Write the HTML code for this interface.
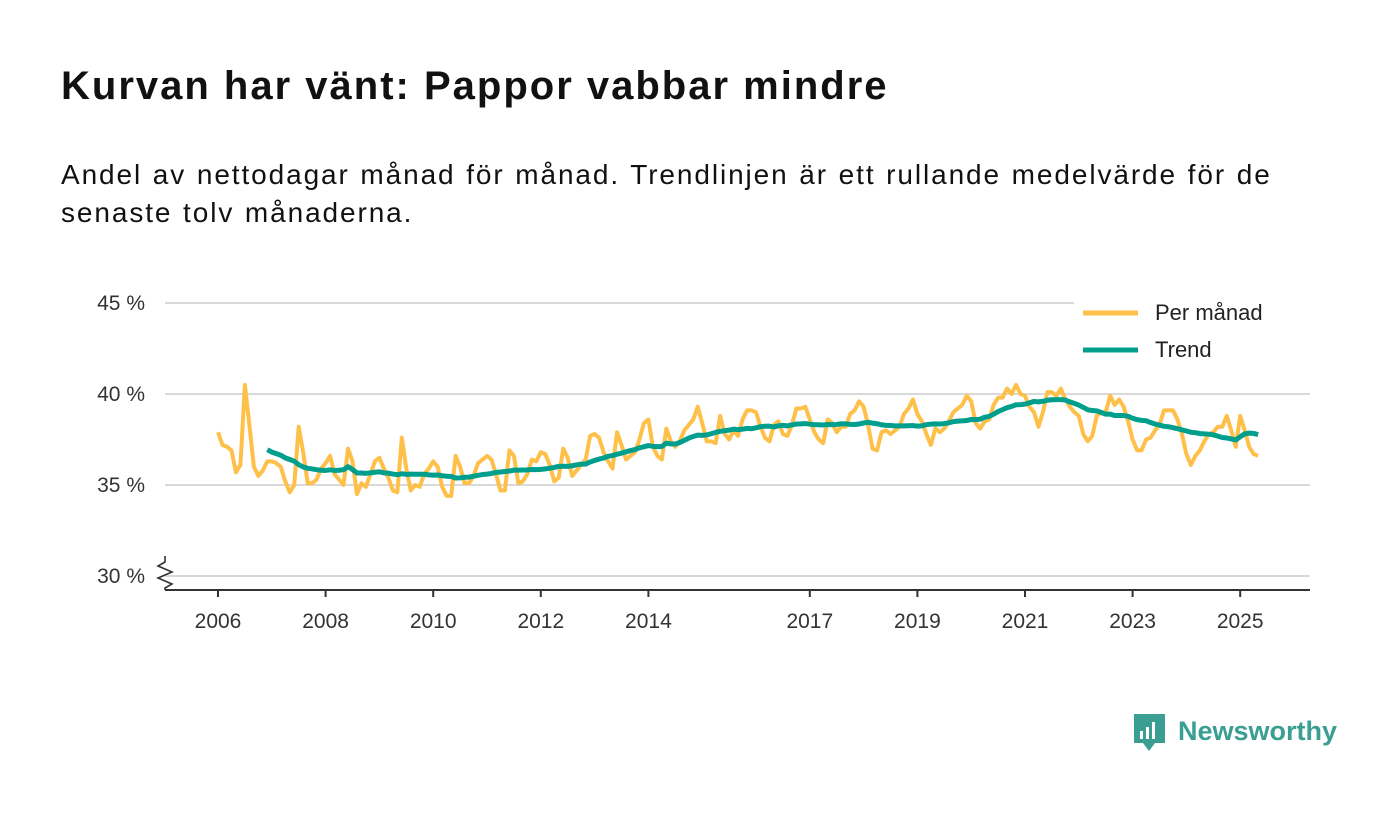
<!DOCTYPE html>
<html><head><meta charset="utf-8"><style>
body{margin:0;width:1400px;height:813px;background:#fff;font-family:"Liberation Sans",sans-serif;overflow:hidden}
#title{position:absolute;left:61px;top:64px;font-size:40px;letter-spacing:2px;font-weight:bold;color:#111;margin:0}
#sub{position:absolute;left:61px;top:156px;font-size:28px;letter-spacing:1.9px;word-spacing:1px;line-height:38px;color:#111;width:1300px;margin:0}
svg{position:absolute;left:0;top:0}
</style></head><body>
<h1 id="title">Kurvan har vänt: Pappor vabbar mindre</h1>
<p id="sub">Andel av nettodagar månad för månad. Trendlinjen är ett rullande medelvärde för de<br>senaste tolv månaderna.</p>
<svg id="chart" width="1400" height="813"></svg>
<script>
const startYear = 2006;
const monthly = [
37.9,37.2,37.1,36.9,35.7,36.1,40.5,38.3,36.0,35.5,35.8,36.3,
36.3,36.2,36.0,35.2,34.6,35.0,38.2,36.8,35.1,35.1,35.3,35.9,
36.2,36.6,35.6,35.3,35.0,37.0,36.3,34.5,35.1,34.9,35.6,36.3,
36.5,35.9,35.4,34.7,34.6,37.6,35.9,34.7,35.0,34.9,35.6,35.9,
36.3,36.0,34.9,34.4,34.4,36.6,36.0,35.1,35.1,35.5,36.2,36.4,
36.6,36.4,35.6,34.7,34.7,36.9,36.6,35.1,35.2,35.6,36.4,36.3,
36.8,36.7,36.1,35.2,35.4,37.0,36.5,35.5,35.8,36.1,36.4,37.7,
37.8,37.6,36.8,36.3,35.9,37.9,37.2,36.4,36.6,36.8,37.5,38.4,
38.6,37.1,36.6,36.4,38.1,37.4,37.1,37.4,38.0,38.3,38.6,39.3,
38.4,37.4,37.4,37.3,38.8,37.8,37.5,38.0,37.7,38.6,39.1,39.1,
39.0,38.2,37.6,37.4,38.3,38.5,37.8,37.7,38.3,39.2,39.2,39.3,
38.6,37.9,37.5,37.3,38.6,38.4,37.9,38.2,38.2,38.9,39.1,39.6,
39.3,38.3,37.0,36.9,37.9,38.0,37.8,38.0,38.2,38.9,39.2,39.7,
38.9,38.5,37.8,37.2,38.1,37.9,38.1,38.5,39.0,39.2,39.4,39.9,
39.6,38.4,38.1,38.5,38.6,39.4,39.8,39.8,40.3,40.0,40.5,40.0,
39.9,39.3,39.0,38.2,39.0,40.1,40.1,39.9,40.3,39.7,39.3,39.0,
38.8,37.8,37.4,37.7,38.8,39.0,39.0,39.9,39.4,39.7,39.3,38.5,
37.5,36.9,36.9,37.5,37.6,38.0,38.3,39.1,39.1,39.1,38.6,37.8,
36.7,36.1,36.6,36.9,37.4,37.8,37.9,38.2,38.2,38.8,38.0,37.1,
38.8,38.0,37.1,36.7,36.6
];
const yTicks = [30,35,40,45];
const yTickLabels = ["30 %","35 %","40 %","45 %"];
const xTicks = [2006,2008,2010,2012,2014,2017,2019,2021,2023,2025];

const NS='http://www.w3.org/2000/svg';
const svg=document.getElementById('chart');
function x(t){return 218+(t-2006)*53.8;}
function y(v){return 576-(v-30)*18.2;}
function mk(tag,attrs,parent){const e=document.createElementNS(NS,tag);for(const k in attrs)e.setAttribute(k,attrs[k]);(parent||svg).appendChild(e);return e;}

yTicks.forEach((v,i)=>{
  const g=mk('line',{x1:165,x2:1310,y1:y(v),y2:y(v),stroke:'#d9d9d9','stroke-width':2});
  
  
  const t=mk('text',{x:145,y:y(v)+7,'text-anchor':'end','font-size':21,fill:'#333'});
  t.textContent=yTickLabels[i];
  
  
});
const ax=mk('line',{x1:165,x2:1310,y1:590,y2:590,stroke:'#333','stroke-width':2});


const br=mk('path',{d:'M165 556 L165 562 L158 566 L172 572 L158 578 L172 584 L165 588 L165 590',fill:'none',stroke:'#333','stroke-width':1.6});


xTicks.forEach(yr=>{
  const l=mk('line',{x1:x(yr),x2:x(yr),y1:590,y2:597,stroke:'#333','stroke-width':2});
  
  
  const t=mk('text',{x:x(yr),y:628,'text-anchor':'middle','font-size':21,fill:'#333'});
  t.textContent=yr;
  
  
});
const mp=monthly.map((v,i)=>[x(startYear+i/12),y(v)]);
const p1=mk('polyline',{points:mp.map(p=>p.join(',')).join(' '),fill:'none',stroke:'#ffc04a','stroke-width':4,'stroke-linejoin':'round'});


const tr=[];
for(let i=11;i<monthly.length;i++){let s=0;for(let j=i-11;j<=i;j++)s+=monthly[j];tr.push([x(startYear+i/12),y(s/12)]);}
const p2=mk('polyline',{points:tr.map(p=>p.join(',')).join(' '),fill:'none',stroke:'#009e8c','stroke-width':5,'stroke-linejoin':'round'});


// legend
const lg=mk('g',{});


mk('rect',{x:1074,y:294,width:236,height:78,fill:'#fff'},lg);
mk('line',{x1:1083,x2:1138,y1:313,y2:313,stroke:'#ffc04a','stroke-width':5},lg);
mk('line',{x1:1083,x2:1138,y1:350,y2:350,stroke:'#009e8c','stroke-width':5},lg);
const t1=mk('text',{x:1155,y:320,'font-size':22,fill:'#222'},lg);t1.textContent='Per månad';


const t2=mk('text',{x:1155,y:357,'font-size':22,fill:'#222'},lg);t2.textContent='Trend';


// logo
const lo=mk('g',{});


mk('path',{d:'M1134 714 h31 v29 h-10 l-6 8 l-6 -8 h-9 z',fill:'#3a9e93'},lo);
mk('rect',{x:1140,y:731,width:3,height:8,fill:'#fff'},lo);
mk('rect',{x:1146,y:727,width:3,height:12,fill:'#fff'},lo);
mk('rect',{x:1152,y:722,width:3,height:17,fill:'#fff'},lo);
const lt=mk('text',{x:1178,y:740,'font-size':27,'font-weight':'bold',fill:'#3a9e93'},lo);lt.textContent='Newsworthy';
</script>
</body></html>
